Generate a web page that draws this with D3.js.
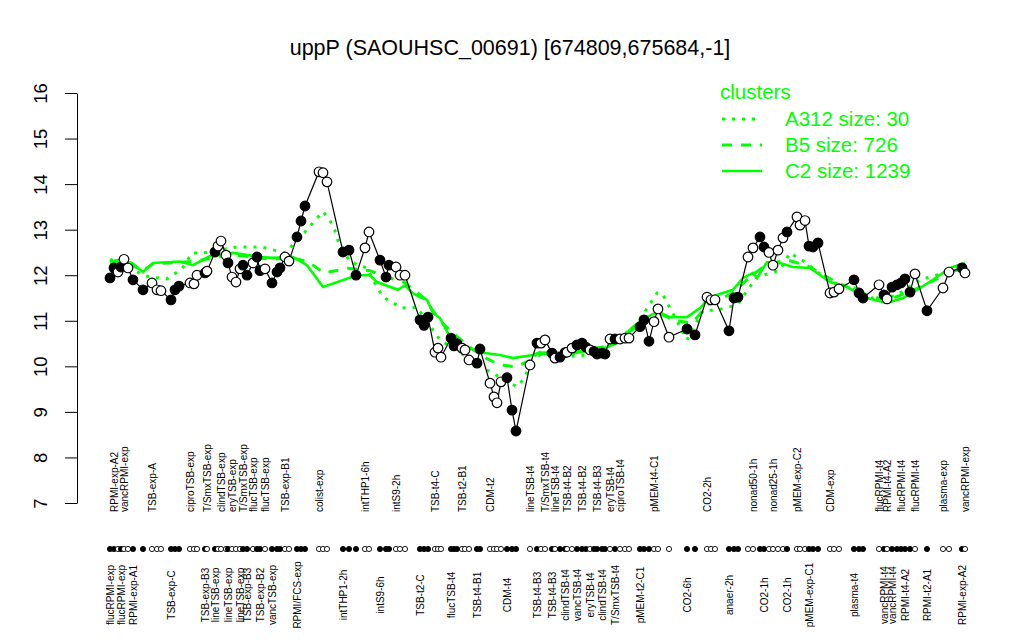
<!DOCTYPE html>
<html><head><meta charset="utf-8">
<script src="https://cdn.jsdelivr.net/npm/d3@7/dist/d3.min.js"></script>
<style>body{margin:0;background:#fff}svg{display:block}text{font-family:"Liberation Sans",Arial,Helvetica,sans-serif}</style>
</head><body>
<script>
const title = "uppP (SAOUHSC_00691) [674809,675684,-1]";
const yTicks = [7,8,9,10,11,12,13,14,15,16];

// sample position along x, expression value, filled marker, label, label side
const xpos = [2.5,3.5,4.5,5.25,6,7,8.25,10.75, 13,14.25,15.25, 17.75,18.75,19.75, 22.5,23.5,24.25,
 26.25,26.75,28.75,29.5,30.25,31.5,32,33,34,35,35.75,36.75,38.25,39.25,40,41.25,43,44.25,45,
 46.25,47.25, 49.25,50.25,51.25, 54.75,55.75,56.75, 60.75,62.25,64, 66.25,67.25, 70,71.5,72.25,
 74,75,76.25, 80,81,82, 83.75,84.5,85.25, 87.75,88.5,89.25,90.5,91.25,92.25,94.25,95,
 97.5,98.5,99.25,100.25,101.75,103,104, 107.5,109.25,
 110.25,111.25,113,113.75,115,116.25,116.75,118,119.25,120.5,121.5,122.5,123.5,124.25,125.5,126.25,127.5,128.75,130,131.25,132.25,
 135,136,137.25,138.5,139.5, 142.25, 146.75,148.75, 151.75,152.75,153.75, 157.25,158.5,159.5,
 162,163.25,165,166,167.25,168.25,169.5,170.75,171.75, 174.25,175,176.25,177.25,178.25,179.5,
 182.5,183.5,184.75, 188.5,189.75,190.75, 194.75,196,196.75,198,199.25,200.25,201.25,202.5,203.75,
 206.75, 210.75,212.25, 215.5,216.25];
const values = [11.94,12.16,12.07,12.18,12.35,12.16,11.90,11.68, 11.83,11.68,11.66, 11.46,11.68,11.76, 11.83,11.81,12.0,
 12.05,12.09,12.51,12.64,12.75,12.44,12.27,11.96,11.85,12.14,12.22,12.0,12.27,12.4,12.1,12.14,11.83,12.07,12.16,
 12.4,12.31, 12.84,13.19,13.52, 14.27,14.25,14.05, 12.51,12.55,12.0, 12.6,12.95, 12.33,11.96,12.22,
 12.18,12.0,12.0, 11.02,10.9,11.08, 10.31,10.4,10.2, 10.62,10.45,10.5,10.4,10.36,10.14,10.07,10.38,
 9.63,9.33,9.2,9.66,9.75,9.04,8.58, 10.03,10.51,
 10.51,10.58,10.29,10.18,10.2,10.3,10.31,10.4,10.47,10.51,10.42,10.36,10.33,10.27,10.29,10.27,10.6,10.6,10.6,10.62,10.62,
 10.87,11.02,10.55,10.98,11.26, 10.64, 10.82,10.69, 11.52,11.46,11.46, 10.78,11.5,11.52,
 12.4,12.6,12.84,12.62,12.5,12.22,12.55,12.82,12.95, 13.28,13.1,13.2,12.64,12.62,12.71,
 11.61,11.63,11.7, 11.9,11.61,11.5, 11.79,11.57,11.48,11.74,11.79,11.83,11.92,11.63,12.03,
 11.22, 11.72,12.07, 12.16,12.05];
const filled = [1,1,0,1,0,0,1,1, 0,0,0, 1,1,1, 0,0,0,
 1,0,1,0,0,0,1,0,0,0,1,1,0,1,1,0,1,1,1,
 0,0, 1,1,1, 0,0,0, 1,1,1, 0,0, 1,1,1,
 0,0,0, 1,1,1, 0,0,0, 1,1,1,0,0,0,1,1,
 0,0,0,0,1,1,1, 0,1,
 0,0,1,0,1,1,0,0,1,1,1,0,1,1,1,1,0,1,0,0,0,
 1,1,1,0,0, 0, 1,1, 0,0,0, 1,1,1,
 0,0,1,1,0,0,0,0,1, 0,0,0,1,1,1,
 0,0,0, 1,1,1, 0,1,0,1,1,1,1,1,0,
 1, 0,0, 1,0];
const labels = ["flucRPMI-exp","RPMI-exp-A2","","flucRPMI-exp","vancRPMI-exp","","RPMI-exp-A1","",
 "TSB-exp-A","","", "TSB-exp-C","","", "ciproTSB-exp","","",
 "TSB-exp-B3","T/SmxTSB-exp","lineTSB-exp","","clindTSB-exp","","lineTSB-exp","eryTSB-exp","","lineTSB-exp","T/SmxTSB-exp","TSB-exp-B3","flucTSB-exp","","TSB-exp-B2","flucTSB-exp","vancTSB-exp","","",
 "TSB-exp-B1","", "RPMI/FCS-exp","","", "colist-exp","","", "intTHP1-2h","","", "intTHP1-6h","", "intS9-6h","","",
 "intS9-2h","","", "TSB-t2-C","","", "TSB-t4-C","","", "flucTSB-t4","","","TSB-t2-B1","","","TSB-t4-B1","",
 "CDM-t2","","","","CDM-t4","","", "lineTSB-t4","TSB-t4-B3",
 "","T/SmxTSB-t4","TSB-t4-B3","lineTSB-t4","","clindTSB-t4","TSB-t4-B2","","vancTSB-t4","TSB-t4-B2","","eryTSB-t4","","TSB-t4-B3","clindTSB-t4","","eryTSB-t4","T/SmxTSB-t4","ciproTSB-t4","","",
 "pMEM-t2-C1","","","pMEM-t4-C1","", "", "CO2-6h","", "CO2-2h","","", "anaer-2h","","",
 "","nonad50-1h","","CO2-1h","","nonad25-1h","","","CO2-1h", "pMEM-exp-C2","","","pMEM-exp-C1","","",
 "CDM-exp","","", "plasma-t4","","", "flucRPMI-t4","vancRPMI-t4","RPMI-t4-A2","vancRPMI-t4","","flucRPMI-t4","RPMI-t4-A2","","flucRPMI-t4",
 "RPMI-t2-A1", "plasma-exp","", "RPMI-exp-A2","vancRPMI-exp"];
const labelSide = ["b","t","","b","t","","b","",
 "t","","", "b","","", "t","","",
 "b","t","b","","t","","b","t","","b","t","b","t","","b","t","b","","",
 "t","", "b","","", "t","","", "b","","", "t","", "b","","",
 "t","","", "b","","", "t","","", "b","","","t","","","b","",
 "t","","","","b","","", "t","b",
 "","t","b","t","","b","t","","b","t","","b","","t","b","","t","b","t","","",
 "b","","","t","", "", "b","", "t","","", "b","","",
 "","t","","b","","t","","","b", "t","","","b","","",
 "t","","", "b","","", "t","b","t","b","","t","b","","t",
 "b", "t","", "b","t"];

// cluster profiles (position, value)
const c2Pos = [2.5,4.5,8,10.75,13.25,20,23.25,27.5,33.25,40,43.25,48.25,51.75,55.75,64.25,67.5,69.25,74.5,76.25,78.25,80.5,81.75,83.25,85,87.5,91.75,95.75,100,103.25,108.25,110,114.25,120,126.75,129.25,133.25,136.25,139.5,142.5,146.75,150,152.5,158.25,160.75,163.25,164.25,166.75,170,173.25,177.5,182.5,186.75,191.75,196.75,200.75,204.25,208.25,212.5,216.25];
const c2Val = [12.3,12.33,12.27,12.07,12.27,12.3,12.22,12.42,12.49,12.4,12.38,12.4,12.22,11.74,12.0,12.0,11.85,11.68,11.78,11.6,11.5,11.46,11.17,11.06,10.64,10.42,10.3,10.25,10.18,10.25,10.31,10.2,10.31,10.42,10.51,10.87,11.06,11.2,11.08,11.08,11.28,11.52,11.68,11.94,12.05,11.94,12.29,12.27,12.18,12.16,11.85,11.74,11.5,11.39,11.5,11.68,11.9,12.16,12.27];
const b5Pos = [2.5,6,10.75,13.25,23,33,43,48,52,56,62,67.5,72,76,81,85,88,92,96,100,104,108,111,116,121,127,133,137,140,144,148,152,158,163,167,172,177,183,190,197,204,210,216.25];
const b5Val = [12.25,12.3,12.1,12.25,12.3,12.45,12.35,12.38,12.3,12.05,12.15,12.1,11.95,11.85,11.5,11.0,10.75,10.45,10.2,10.03,9.99,10.15,10.3,10.3,10.35,10.45,10.8,11.0,11.15,11.0,10.95,11.35,11.6,12.0,12.25,12.33,12.2,11.9,11.6,11.45,11.7,11.95,12.2];
const a312Pos = [2.5,7,10.75,12.5,16.75,20.5,23,25.75,34.25,40.5,46.25,50.75,54.25,55.75,57.5,58.75,59.5,62.5,66.75,69.25,70.75,75.5,79.25,85,90,96.75,104.25,105.75,109.25,115,122,128,134,139.25,140.5,146.75,150.75,154.5,159.25,164.25,170,172.5,176.25,182.5,188,193,199,205,211,216.25];
const a312Val = [12.35,12.2,12.0,11.96,11.92,12.14,12.49,12.49,12.62,12.62,12.49,12.9,13.25,13.4,13.2,12.98,12.76,12.29,12.16,11.74,11.52,11.28,11.3,10.58,10.3,9.92,9.55,9.7,10.31,10.2,10.25,10.5,10.9,11.61,11.61,10.58,11.22,11.24,11.35,11.96,12.11,12.49,12.29,11.85,11.75,11.5,11.55,11.9,12.05,12.15];

const clusterNames = ["A312 size: 30","B5 size: 726","C2 size: 1239"];
const GREEN = "#00ff00";

const svg = d3.select("body").append("svg").attr("width",1024).attr("height",640);
const x = d3.scaleLinear().domain([0,216.25]).range([100,965]);
const y = d3.scaleLinear().domain([7,16]).range([503,93]);

svg.append("text").attr("x",510).attr("y",55).attr("text-anchor","middle")
  .attr("font-size",21.5).text(title);

const yAxis = svg.append("g").attr("transform","translate(77,0)")
  .call(d3.axisLeft(y).tickValues(yTicks).tickSize(12).tickSizeOuter(0).tickFormat(d3.format("d")));
yAxis.select(".domain").attr("stroke","#000");
yAxis.selectAll("text").attr("font-size",18.5).attr("fill","#000")
  .attr("transform","rotate(-90)").attr("x",0).attr("y",-30).attr("dy",0).attr("text-anchor","middle");

const line = d3.line().x(d=>x(d[0])).y(d=>y(d[1]));
function zip(a,b){return a.map((v,i)=>[v,b[i]]);}
svg.append("path").attr("d",line(zip(a312Pos,a312Val))).attr("fill","none").attr("stroke",GREEN)
  .attr("stroke-width",3).attr("stroke-dasharray","3,7");
svg.append("path").attr("d",line(zip(b5Pos,b5Val))).attr("fill","none").attr("stroke",GREEN)
  .attr("stroke-width",3).attr("stroke-dasharray","10,9");
svg.append("path").attr("d",line(zip(c2Pos,c2Val))).attr("fill","none").attr("stroke",GREEN)
  .attr("stroke-width",2.6);

const pts = xpos.map((p,i)=>({p, v:values[i], f:filled[i], l:labels[i], s:labelSide[i]}));
svg.append("path").attr("d",line(pts.map(d=>[d.p,d.v]))).attr("fill","none").attr("stroke","#000").attr("stroke-width",1.2);
svg.append("g").selectAll("circle").data(pts).join("circle")
  .attr("cx",d=>x(d.p)).attr("cy",d=>y(d.v)).attr("r",4.8)
  .attr("fill",d=>d.f?"#000":"#fff").attr("stroke","#000").attr("stroke-width",1.2);

// marker row
svg.append("g").selectAll("circle").data(pts).join("circle")
  .attr("cx",d=>x(d.p)).attr("cy",549).attr("r",2.6)
  .attr("fill",d=>d.f?"#000":"#fff").attr("stroke","#000").attr("stroke-width",0.9);

// labels
const lab = svg.append("g").attr("font-size",10).attr("fill","#000");
pts.filter(d=>d.l && d.s==="t").forEach(d=>{
  lab.append("text").attr("transform",`translate(${x(d.p)+3.6},512) rotate(-90)`)
    .attr("text-anchor","start").text(d.l);
});
pts.filter(d=>d.l && d.s==="b").forEach(d=>{
  lab.append("text").attr("transform",`translate(${x(d.p)+3.6},595) rotate(-90)`)
    .attr("text-anchor","middle").text(d.l);
});

// legend
const lg = svg.append("g");
lg.append("text").attr("x",720).attr("y",99).attr("font-size",20.5).attr("fill",GREEN).text("clusters");
const dashes = ["3,7","10,9",null];
clusterNames.forEach((n,i)=>{
  const yy = 119 + i*26;
  const l = lg.append("line").attr("x1",722).attr("x2",762).attr("y1",yy).attr("y2",yy)
    .attr("stroke",GREEN).attr("stroke-width",i===2?2.6:3);
  if(dashes[i]) l.attr("stroke-dasharray",dashes[i]);
  lg.append("text").attr("x",785).attr("y",yy+7).attr("font-size",20.5).attr("fill",GREEN).text(n);
});
</script>
</body></html>
